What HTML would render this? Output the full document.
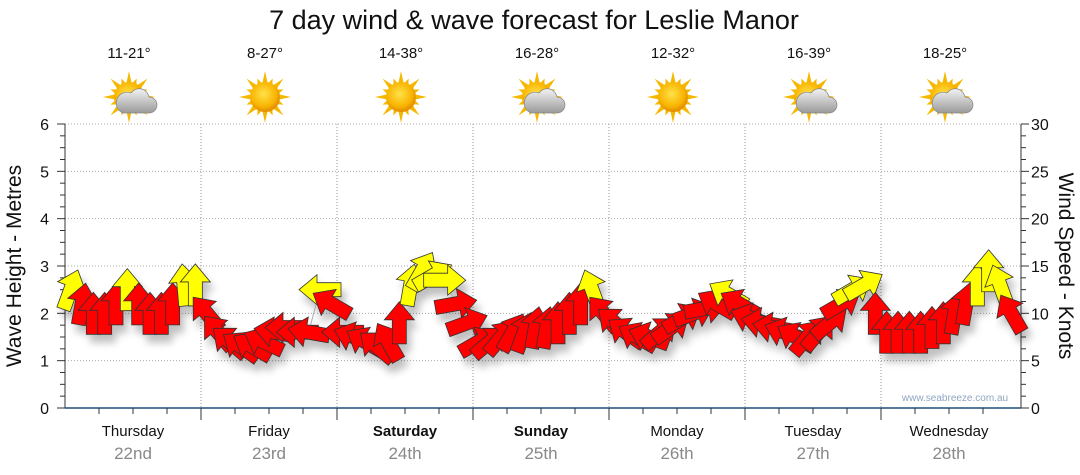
<!DOCTYPE html>
<html><head><meta charset="utf-8"><style>
html,body{margin:0;padding:0;background:#fff}
svg{display:block;font-family:"Liberation Sans",sans-serif}
</style></head><body>
<svg id="c" width="1080" height="475" viewBox="0 0 1080 475">
<defs>
<filter id="sh" x="-50%" y="-50%" width="200%" height="200%"><feGaussianBlur in="SourceAlpha" stdDeviation="4"/><feOffset dx="4" dy="8"/><feComponentTransfer><feFuncA type="linear" slope="0.25"/></feComponentTransfer><feMerge><feMergeNode/><feMergeNode in="SourceGraphic"/></feMerge></filter>
<radialGradient id="sun" cx="45%" cy="40%" r="60%"><stop offset="0" stop-color="#ffe24a"/><stop offset="0.7" stop-color="#f9b400"/><stop offset="1" stop-color="#e08a00"/></radialGradient>
<linearGradient id="cloud" x1="0" y1="0" x2="0" y2="1"><stop offset="0" stop-color="#f2f2f2"/><stop offset="1" stop-color="#9a9a9a"/></linearGradient>
</defs>
<text x="534" y="29" text-anchor="middle" font-size="27" fill="#111">7 day wind &amp; wave forecast for Leslie Manor</text>
<g id="grid"></g>
<g id="icons"></g>
<g id="axes"></g>
<g id="marks" filter="url(#sh)"></g>
<text x="955" y="401" text-anchor="middle" font-size="10" fill="#8fa6c0">www.seabreeze.com.au</text>
<text transform="translate(21,266) rotate(-90)" text-anchor="middle" font-size="21" fill="#111">Wave Height - Metres</text>
<text transform="translate(1059,266) rotate(90)" text-anchor="middle" font-size="21" fill="#111">Wind Speed - Knots</text>
</svg>
<script>
const days = ["Thursday","Friday","Saturday","Sunday","Monday","Tuesday","Wednesday"];
const dates = ["22nd","23rd","24th","25th","26th","27th","28th"];
const temps = ["11-21°","8-27°","14-38°","16-28°","12-32°","16-39°","18-25°"];
const icons = ["partly","sun","sun","partly","sun","partly","partly"];
const leftTicks = [0,1,2,3,4,5,6];
const rightTicks = [0,5,10,15,20,25,30];
const windSpeed = [
12.5,11,10,10,11,12.5,11,10,10,11,13,13,
10,8,7,6.5,6.5,7,8,8.5,8,8,12.5,11,
8,7.5,7,6.5,7,9,13,14.5,14,13.5,11,9,
7,7,7.5,8,8,8.5,8.5,9,10,11,12.5,10,
9,8,7.5,7.5,8,8.5,9.5,10,10.5,11,12,11,
9.5,9,8.5,8,7.5,7.5,8,9,11,12.5,13,10,
8,8,8,8,8.5,9,10,11,13,14.5,13,10];
const windDir = [
20,10,0,0,0,0,0,0,0,0,-5,0,
-40,-40,-50,-55,-60,-65,-80,-90,-90,-80,-90,-60,
-90,-70,-60,-50,-30,0,10,30,60,90,80,70,
60,50,40,30,20,10,10,0,0,0,-20,-40,
-50,-55,-60,-70,50,55,60,70,80,-60,-60,-60,
-70,-80,-80,-70,-60,40,40,50,60,60,60,0,
0,0,0,0,0,0,10,10,0,0,-20,-30];

const NS="http://www.w3.org/2000/svg";
const X0=65,DW=136,Y0=408,Y1=124,PER=12;
const yM=v=>Y0-(v/6)*(Y0-Y1);
const yK=k=>Y0-(k/30)*(Y0-Y1);
const xI=i=>X0+(i+0.5)*DW/PER;
function mk(tag,attrs,parent){const e=document.createElementNS(NS,tag);for(const k in attrs)e.setAttribute(k,attrs[k]);parent.appendChild(e);return e;}
const grid=document.getElementById('grid'),axes=document.getElementById('axes'),marks=document.getElementById('marks'),ic=document.getElementById('icons');
const R=X0+DW*7+4;
leftTicks.forEach((t,i)=>{
  if(t>0){const g=mk('line',{x1:X0,x2:R,y1:yM(t),y2:yM(t),stroke:'#aaa','stroke-dasharray':'1,2'},grid);
  
  }
  const l=mk('text',{x:X0-16,y:yM(t)+6,'text-anchor':'end','font-size':16,fill:'#111'},axes);l.textContent=t;
  
  
  const r=mk('text',{x:R+10,y:yK(rightTicks[i])+6,'font-size':16,fill:'#111'},axes);r.textContent=rightTicks[i];
  
  
});
for(let v=0;v<=6.001;v+=0.25){const big=Math.abs(v-Math.round(v))<0.01;
  mk('line',{x1:X0-(big?8:5),x2:X0,y1:yM(v),y2:yM(v),stroke:'#333'},axes);
  mk('line',{x1:R,x2:R+(big?8:5),y1:yM(v),y2:yM(v),stroke:'#333'},axes);}
mk('line',{x1:X0,x2:X0,y1:Y1,y2:Y0,stroke:'#333'},axes);
mk('line',{x1:R,x2:R,y1:Y1,y2:Y0,stroke:'#333'},axes);
mk('line',{x1:X0,x2:R,y1:Y0,y2:Y0,stroke:'#1f4e79','stroke-width':1.5},axes);
days.forEach((d,i)=>{
  const cx=X0+DW*i+DW/2;
  if(i>0){const v=mk('line',{x1:X0+DW*i,x2:X0+DW*i,y1:Y1,y2:Y0,stroke:'#999','stroke-dasharray':'1,2'},grid);
    
    
    mk('line',{x1:X0+DW*i,x2:X0+DW*i,y1:Y0,y2:Y0+12,stroke:'#333'},axes);}
  for(let q=1;q<4;q++)mk('line',{x1:X0+DW*i+q*DW/4,x2:X0+DW*i+q*DW/4,y1:Y0,y2:Y0+6,stroke:'#333'},axes);
  const t=mk('text',{x:cx,y:436,'text-anchor':'middle','font-size':15,fill:'#111','font-weight':(i==2||i==3)?'bold':'normal'},axes);t.textContent=d;
  
  
  const dt=mk('text',{x:cx,y:459,'text-anchor':'middle','font-size':17,fill:'#888'},axes);dt.textContent=dates[i];
  
  
  const tp=mk('text',{x:cx-4,y:58,'text-anchor':'middle','font-size':15,fill:'#111'},ic);tp.textContent=temps[i];
  
  
  const g=mk('g',{transform:`translate(${cx-4},97)`},ic);
  
  
  for(let k=0;k<16;k++){const a=k*22.5,len=k%2?20:26;
    mk('polygon',{points:`-3,-12 3,-12 0,-${len}`,fill:'#f5b800',transform:`rotate(${a})`},g);}
  mk('circle',{r:15,fill:'url(#sun)'},g);
  if(icons[i]==='partly'){
    mk('path',{d:'M-6,16 h26 a8,8 0 0 0 0,-16 a10,10 0 0 0 -18,-4 a8,8 0 0 0 -8,20 z',fill:'url(#cloud)',stroke:'#888','stroke-width':0.7},g);}
});
let pts=windSpeed.map((k,i)=>`${xI(i)},${yK(k)}`).join(' ');
const pl=mk('polyline',{points:pts,fill:'none',stroke:'#aaa','stroke-width':1},marks);


windSpeed.forEach((k,i)=>{
  const p=mk('polygon',{points:'-7,21 7,21 7,-3 15,-3 0,-21 -15,-3 -7,-3',fill:k>=12?'#ffff00':'#ff0000',stroke:'#333','stroke-width':0.8,
    transform:`translate(${xI(i)},${yK(k)}) rotate(${windDir[i]})`},marks);
  
  
});
</script>
</body></html>
